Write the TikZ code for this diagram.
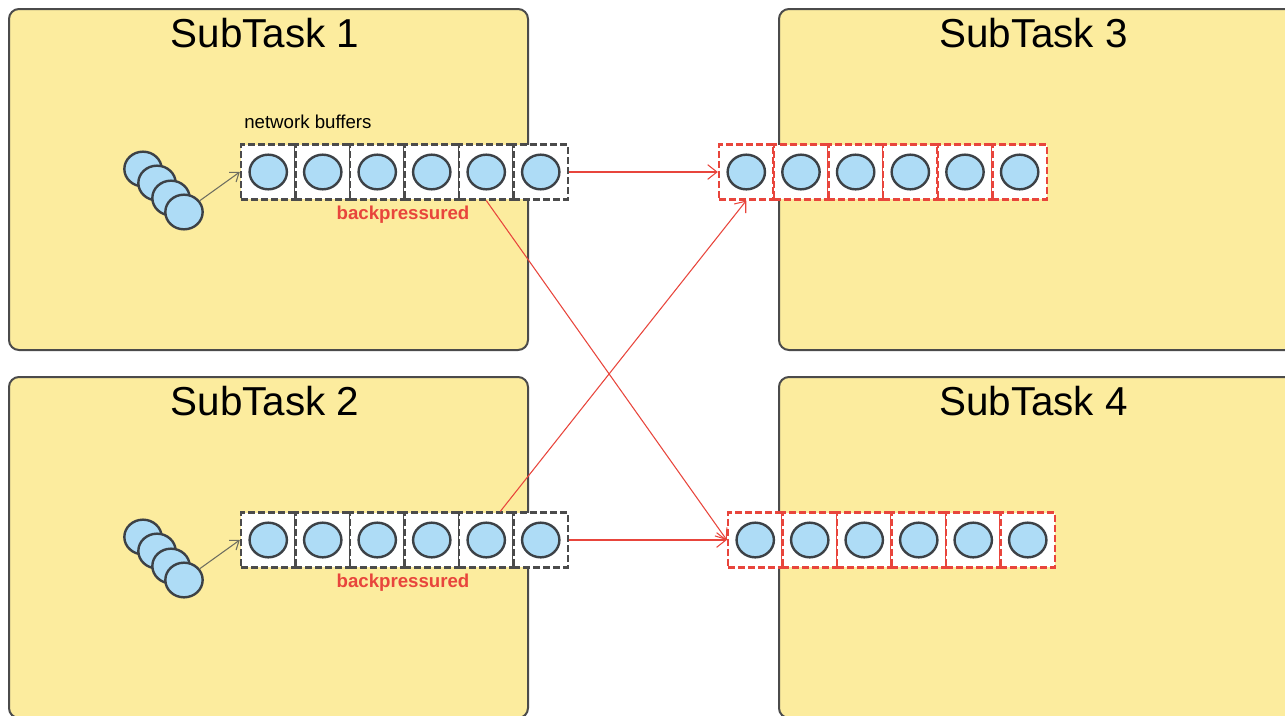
\documentclass[tikz,border=0pt]{standalone}
\usepackage{fontspec}
\setmainfont{Liberation Sans}
\usetikzlibrary{shapes.geometric,arrows.meta,calc}
\definecolor{taskfill}{HTML}{FCEC9E}
\definecolor{taskline}{HTML}{4B4B4B}
\definecolor{recfill}{HTML}{AEDCF6}
\definecolor{recline}{HTML}{3C4146}
\definecolor{bpred}{HTML}{E8453C}
\definecolor{feedgray}{HTML}{6E6E60}
\begin{document}
\begin{tikzpicture}[x=0.75pt,y=-0.75pt,
  taskbox/.style={rectangle, draw=taskline, line width=1.5pt, fill=taskfill,
    rounded corners=7.5pt, anchor=north west, inner sep=0pt,
    minimum width=389.25pt, minimum height=255.75pt},
  title/.style={anchor=base, inner sep=0pt, text=black,
    font=\fontsize{30.3}{35}\selectfont},
  cell/.style={rectangle, draw=#1, dash pattern=on 5.25pt off 2.25pt,
    line width=1.8pt, fill=white, inner sep=0pt,
    minimum width=40.9pt, minimum height=41pt},
  record/.style={ellipse, draw=recline, line width=1.8pt, fill=recfill,
    inner sep=0pt, minimum width=28pt, minimum height=26pt},
  link/.style={draw=bpred, line width=0.8pt,
    -{Straight Barb[length=7pt,width=11pt]}},
  feed/.style={draw=feedgray, line width=0.8pt,
    -{Straight Barb[length=6pt,width=9pt]}},
  note/.style={anchor=base west, inner sep=0pt, text=black,
    font=\fontsize{14}{16}\selectfont},
  bp/.style={anchor=base, inner sep=0pt, text=bpred,
    font=\fontsize{14}{16}\selectfont\bfseries}
]
\useasboundingbox (0,0) rectangle (1285,715);
\clip (0,0) rectangle (1285,715);

% task frames
\node[taskbox] (t1) at (8,8) {};
\node[taskbox] (t2) at (8,376) {};
\node[taskbox] (t3) at (778,8) {};
\node[taskbox] (t4) at (778,376) {};

\node[title] (h1) at (265,47) {SubTask 1};
\node[title] (h2) at (265,415) {SubTask 2};
\node[title] (h3) at (1033.5,47) {SubTask 3};
\node[title] (h4) at (1033.5,415) {SubTask 4};

% incoming record stacks
\foreach \k/\dy in {a/0,b/368}{
  \node[record] (s\k1) at (143,{169+\dy}) {};
  \node[record] (s\k2) at (157,{183+\dy}) {};
  \node[record] (s\k3) at (171,{198+\dy}) {};
  \node[record] (s\k4) at (184,{212+\dy}) {};
}

% output buffers of SubTask 1 and 2
\foreach \i in {1,...,6}{
  \node[cell=taskline] (a\i) at ({268.25+54.5*(\i-1)},172) {};
  \node[record] (ra\i) at (a\i) {};
  \node[cell=taskline] (b\i) at ({268.25+54.5*(\i-1)},540) {};
  \node[record] (rb\i) at (b\i) {};
}

% input buffers of SubTask 3 and 4
\foreach \i in {1,...,6}{
  \node[cell=bpred] (c\i) at ({746.3+54.67*(\i-1)},172) {};
  \node[record] (rc\i) at (c\i) {};
  \node[cell=bpred] (d\i) at ({755.25+54.5*(\i-1)},540) {};
  \node[record] (rd\i) at (d\i) {};
}

\node[note] (nb) at (244,128) {network buffers};
\node[bp] (bpa) at (403,219) {backpressured};
\node[bp] (bpb) at (403,587) {backpressured};

% record flow into the output buffers
\draw[feed] (sa4) -- (a1.west);
\draw[feed] (sb4) -- (b1.west);

% network channels
\draw[link] (a6.east) -- (c1.west);
\draw[link] (a5.south) -- (d1.west);
\draw[link] ($(b5.north)+(14,0)$) -- (c1.south);
\draw[link] (b6.east) -- (d1.west);
\end{tikzpicture}
\end{document}
